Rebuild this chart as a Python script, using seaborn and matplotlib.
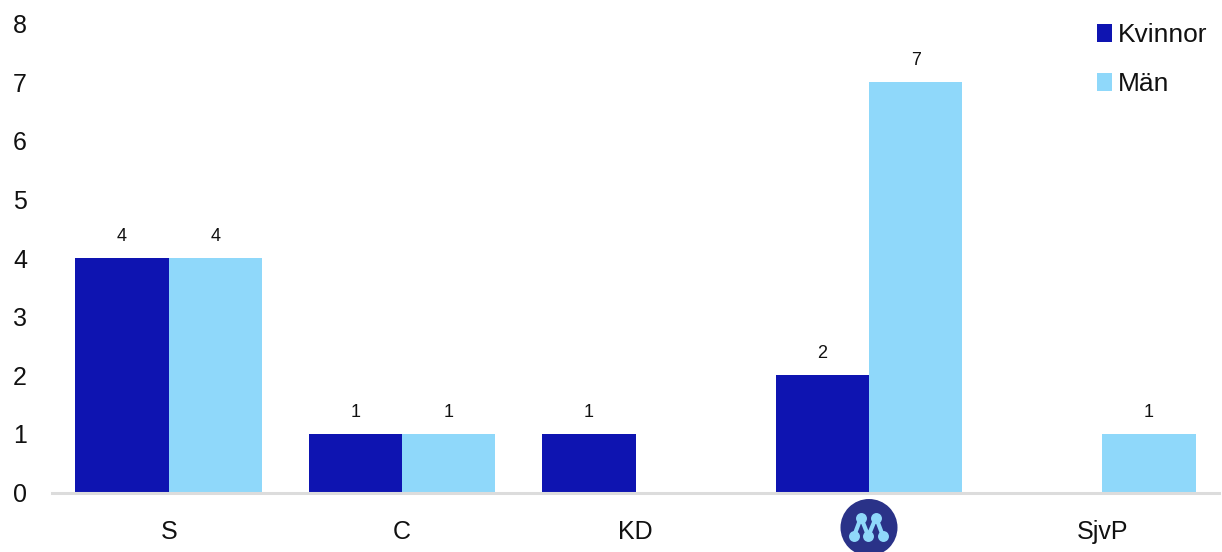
import numpy as np
import pandas as pd
import seaborn as sns
import matplotlib.pyplot as plt
from matplotlib.patches import Circle

W, H = 1222, 552

partier = ["S", "C", "KD", "M", "SjvP"]
kvinnor = [4, 1, 1, 2, np.nan]
man = [4, 1, np.nan, 7, 1]
yticks = [0, 1, 2, 3, 4, 5, 6, 7, 8]
blue = "#0e14b1"
light = "#8fd8fa"

df = pd.DataFrame({"parti": partier, "Kvinnor": kvinnor, "Män": man})
long_df = pd.melt(df, id_vars="parti", var_name="kon", value_name="antal")

sns.set_style("white")
plt.rcParams["font.family"] = ["Liberation Sans", "DejaVu Sans"]

fig = plt.figure(figsize=(W / 100, H / 100), dpi=100)
ax = fig.add_axes([52 / W, 1 - 492.5 / H, 1167 / W, 469 / H])

sns.barplot(data=long_df, x="parti", y="antal", hue="kon", order=partier,
            hue_order=["Kvinnor", "Män"], palette=[blue, light],
            width=0.8, gap=0, linewidth=0, saturation=1, ax=ax)

for c in ax.containers:
    ax.bar_label(c, padding=9.5, fontsize=13, color="#111111", fmt="%d")

ax.set_xlim(-0.5, 4.5)
ax.set_ylim(0, 8)
ax.set_yticks(yticks)
ax.set_xlabel("")
ax.set_ylabel("")
ax.set_xticks(range(len(partier)))
ax.set_xticklabels(["S", "C", "KD", "", "SjvP"])
ax.tick_params(axis="x", length=0, labelsize=18, pad=20, labelcolor="#111111")
ax.tick_params(axis="y", length=0, labelsize=18, pad=18, labelcolor="#111111")
sns.despine(ax=ax, left=True, right=True, top=True)
ax.spines["bottom"].set_color("#dcdcdc")
ax.spines["bottom"].set_linewidth(2.2)

ax.legend(loc="upper left", bbox_to_anchor=(1097 / W, 1 - 23 / H),
          bbox_transform=fig.transFigure, frameon=False, fontsize=19,
          handlelength=0.55, handleheight=0.7, handletextpad=0.24,
          labelspacing=0.96, borderpad=0, borderaxespad=0, title=None,
          labelcolor="#111111")

# partilogga istallet for etikett under M
logo = fig.add_axes([(869 - 30) / W, 1 - (527.5 + 30) / H, 60 / W, 60 / H])
logo.set_xlim(-30, 30)
logo.set_ylim(30, -30)
logo.axis("off")
logo.add_patch(Circle((0, 0), 28.5, color="#2a3288", lw=0))
nx = [-15, -8, -0.7, 7, 14]
ny = [8.5, -10, 8.5, -10, 8.5]
logo.plot(nx, ny, color=light, lw=3, solid_capstyle="round")
logo.scatter(nx, ny, s=62, color=light, linewidths=0, zorder=3)

plt.savefig("out.png", dpi=100)
